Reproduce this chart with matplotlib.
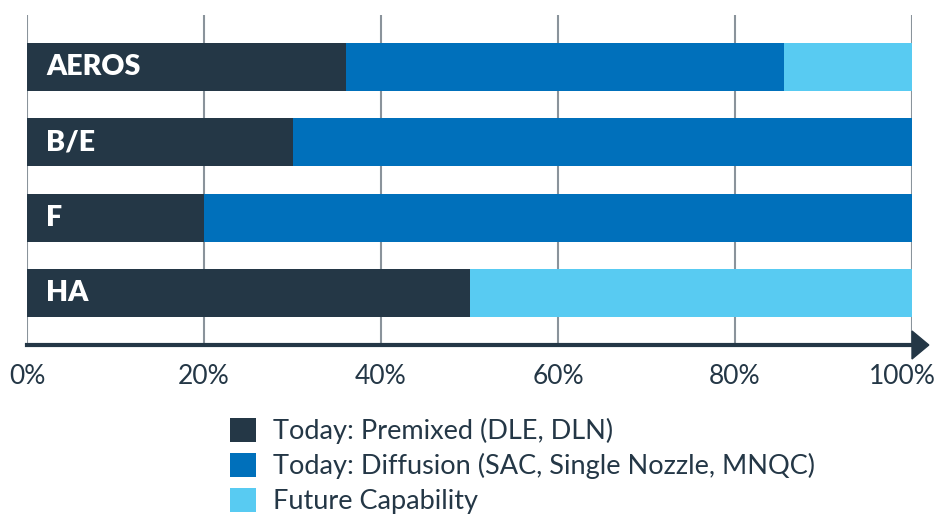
import matplotlib
matplotlib.use("Agg")
import matplotlib.pyplot as plt
from matplotlib.patches import Polygon, Patch
import matplotlib.transforms as mtransforms
import numpy as np

categories = ["AEROS", "B/E", "F", "HA"]
premixed = [36, 30, 20, 50]
diffusion = [49.5, 70, 80, 0]
future = [14.5, 0, 0, 50]
series_labels = ["Today: Premixed (DLE, DLN)",
                 "Today: Diffusion (SAC, Single Nozzle, MNQC)",
                 "Future Capability"]
tick_values = [0, 20, 40, 60, 80, 100]
tick_labels = ["0%", "20%", "40%", "60%", "80%", "100%"]

colors = ["#243746", "#0070BB", "#58CBF2"]
text_dark = "#243746"

plt.rcParams['font.family'] = ['Lato', 'DejaVu Sans']

fig = plt.figure(figsize=(9.37, 5.14), dpi=100)
ax = fig.add_axes([27/937, (514-345)/514, 885/937, 330/514])

y = np.arange(len(categories))
h = 0.64
left = np.zeros(len(categories))
for vals, c in zip([premixed, diffusion, future], colors):
    ax.barh(y, vals, left=left, height=h, color=c, zorder=3, linewidth=0)
    left += np.array(vals)

for yi, name in zip(y, categories):
    ax.text(2.2, yi, name, color="white", fontsize=20.5, fontweight="heavy",
            va="center", ha="left", zorder=4)

ax.set_xlim(0, 100)
ax.set_ylim(len(categories) - 1 + 0.69, -0.69)
ax.set_yticks([])
ax.set_xticks(tick_values)
ax.set_xticklabels(tick_labels)
ax.tick_params(axis='x', length=0, pad=14, labelsize=19, labelcolor=text_dark)
last = ax.get_xticklabels()[-1]
last.set_transform(last.get_transform() +
                   mtransforms.ScaledTranslation(-0.1, 0, fig.dpi_scale_trans))
for v in tick_values:
    ax.axvline(v, color="#8a939b", linewidth=1.5, zorder=1)

for s in ["top", "right", "left"]:
    ax.spines[s].set_visible(False)
ax.spines["bottom"].set_color(text_dark)
ax.spines["bottom"].set_linewidth(3)
ax.spines["bottom"].set_zorder(5)

# arrow head at the end of the x axis
ax_h = 330.0
tri = Polygon([[1.0, 14/ax_h], [1.0, -14/ax_h], [1.019, 0]], closed=True,
              transform=ax.transAxes, color=text_dark, clip_on=False, zorder=6)
ax.add_patch(tri)

handles = [Patch(facecolor=c, edgecolor='none') for c in colors]
fig.legend(handles, series_labels, loc='upper left',
           bbox_to_anchor=(230/937, 1 - 418/514), frameon=False,
           fontsize=19.5, handlelength=0.97, handleheight=0.97,
           handletextpad=0.6, labelspacing=0.33, borderaxespad=0,
           borderpad=0, labelcolor=text_dark)

fig.savefig("out.png", dpi=100)
